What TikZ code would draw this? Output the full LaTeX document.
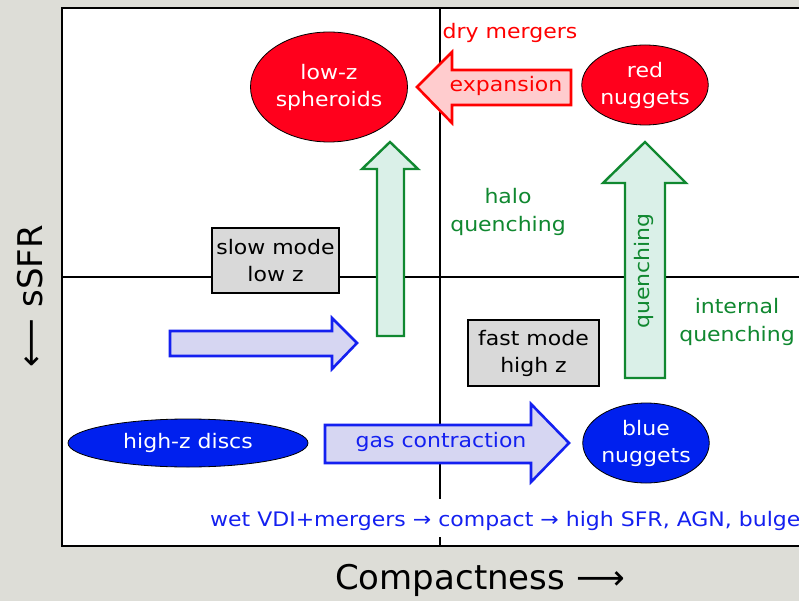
\documentclass[tikz,border=0pt]{standalone}
\usepackage{fontspec}
\setmainfont{DejaVu Sans}[FakeStretch=1.1]
\newfontfamily\axisfont{DejaVu Sans}
\usetikzlibrary{shapes.geometric}
\definecolor{bggray}{RGB}{221,221,215}
\definecolor{redfill}{RGB}{255,0,28}
\definecolor{bluefill}{RGB}{0,32,238}
\definecolor{bluetext}{RGB}{20,32,240}
\definecolor{greenline}{RGB}{16,136,48}
\definecolor{mintfill}{RGB}{218,240,232}
\definecolor{pinkfill}{RGB}{255,204,206}
\definecolor{lavfill}{RGB}{214,214,242}
\definecolor{boxgray}{RGB}{217,217,217}
\tikzset{
  blob/.style={ellipse, draw=black, line width=0.8pt, text=white, align=center, inner sep=0pt, font=\fontsize{20}{27}\selectfont},
  modebox/.style={draw=black, fill=boxgray, line width=2pt, align=center, inner sep=0pt, font=\fontsize{20}{27}\selectfont},
  lbl/.style={align=center, inner sep=0pt, font=\fontsize{20}{28}\selectfont},
  redarrow/.style={draw=red, fill=pinkfill, line width=2.6pt},
  greenarrow/.style={draw=greenline, fill=mintfill, line width=2.4pt},
  bluearrow/.style={draw=bluetext, fill=lavfill, line width=2.6pt},
}
\begin{document}
\begin{tikzpicture}[x=1pt,y=-1pt]
\useasboundingbox (0,0) rectangle (799,601);
\fill[bggray] (0,0) rectangle (799,601);
\begin{scope}
\clip (0,0) rectangle (799,601);
\fill[white] (62,8) rectangle (830,546);
% dividers
\coordinate (vt) at (440,8);
\coordinate (vm1) at (440,499);
\coordinate (vm2) at (440,537);
\coordinate (vb) at (440,546);
\coordinate (hl) at (62,277);
\coordinate (hr) at (830,277);
\draw[line width=1.4pt] (vt) -- (vm1);
\draw[line width=1.4pt] (vm2) -- (vb);
\draw[line width=1.4pt] (hl) -- (hr);
% frame
\draw[line width=2pt] (830,8) -- (62,8) -- (62,546) -- (830,546);

% blobs
\node[blob, fill=redfill, minimum width=157pt, minimum height=110pt] (lowz) at (329,87) {low-z\\spheroids};
\node[blob, fill=redfill, minimum width=125pt, minimum height=80pt] (rednug) at (645,85) {red\\nuggets};
\node[blob, fill=bluefill, minimum width=240pt, minimum height=48pt] (hzd) at (188,443) {high-z discs};
\node[blob, fill=bluefill, minimum width=126pt, minimum height=80pt] (bluenug) at (646,443) {blue\\nuggets};

% expansion arrow
\draw[redarrow] (417,87) -- (452,52) -- (452,70) -- (571,70) -- (571,105) -- (452,105) -- (452,123) -- cycle;
\node[lbl, text=red] (expl) at (506,86) {expansion};
\node[lbl, text=red] (dry) at (510,33) {dry mergers};

% green arrows
\draw[greenarrow] (390,142) -- (418,169) -- (404,169) -- (404,336) -- (377,336) -- (377,169) -- (362,169) -- cycle;
\draw[greenarrow] (645,142) -- (686,183) -- (665,183) -- (665,378) -- (625,378) -- (625,183) -- (603,183) -- cycle;
\node[lbl, text=greenline, rotate=90] (qlbl) at (644,271) {quenching};
\node[lbl, text=greenline] (halo) at (508,212) {halo\\quenching};
\node[lbl, text=greenline] (intq) at (737,322) {internal\\quenching};

% blue arrows
\draw[bluearrow] (357,343) -- (332,369) -- (332,356) -- (170,356) -- (170,331) -- (332,331) -- (332,318) -- cycle;
\draw[bluearrow] (569,443) -- (531,482) -- (531,463) -- (325,463) -- (325,425) -- (531,425) -- (531,404) -- cycle;
\node[lbl, text=bluetext] (gasc) at (441,442) {gas contraction};

% mode boxes
\node[modebox, minimum width=127pt, minimum height=65pt] (slow) at (275.5,260.5) {slow mode\\low z};
\node[modebox, minimum width=131pt, minimum height=66pt] (fast) at (533.5,353) {fast mode\\high z};

% bottom text
\node[anchor=base west, inner sep=0pt, text=bluetext, font=\fontsize{20}{24}\selectfont] (wet) at (210,526) {wet VDI+mergers → compact → high SFR, AGN, bulge};
\end{scope}

% axis labels
\node[inner sep=0pt, font=\axisfont\fontsize{34}{40}\selectfont] (xlab) at (480,580) {Compactness ⟶};
\node[inner sep=0pt, rotate=90, font=\axisfont\fontsize{34}{40}\selectfont] (ylab) at (30,296) {⟵ sSFR};
\end{tikzpicture}
\end{document}
